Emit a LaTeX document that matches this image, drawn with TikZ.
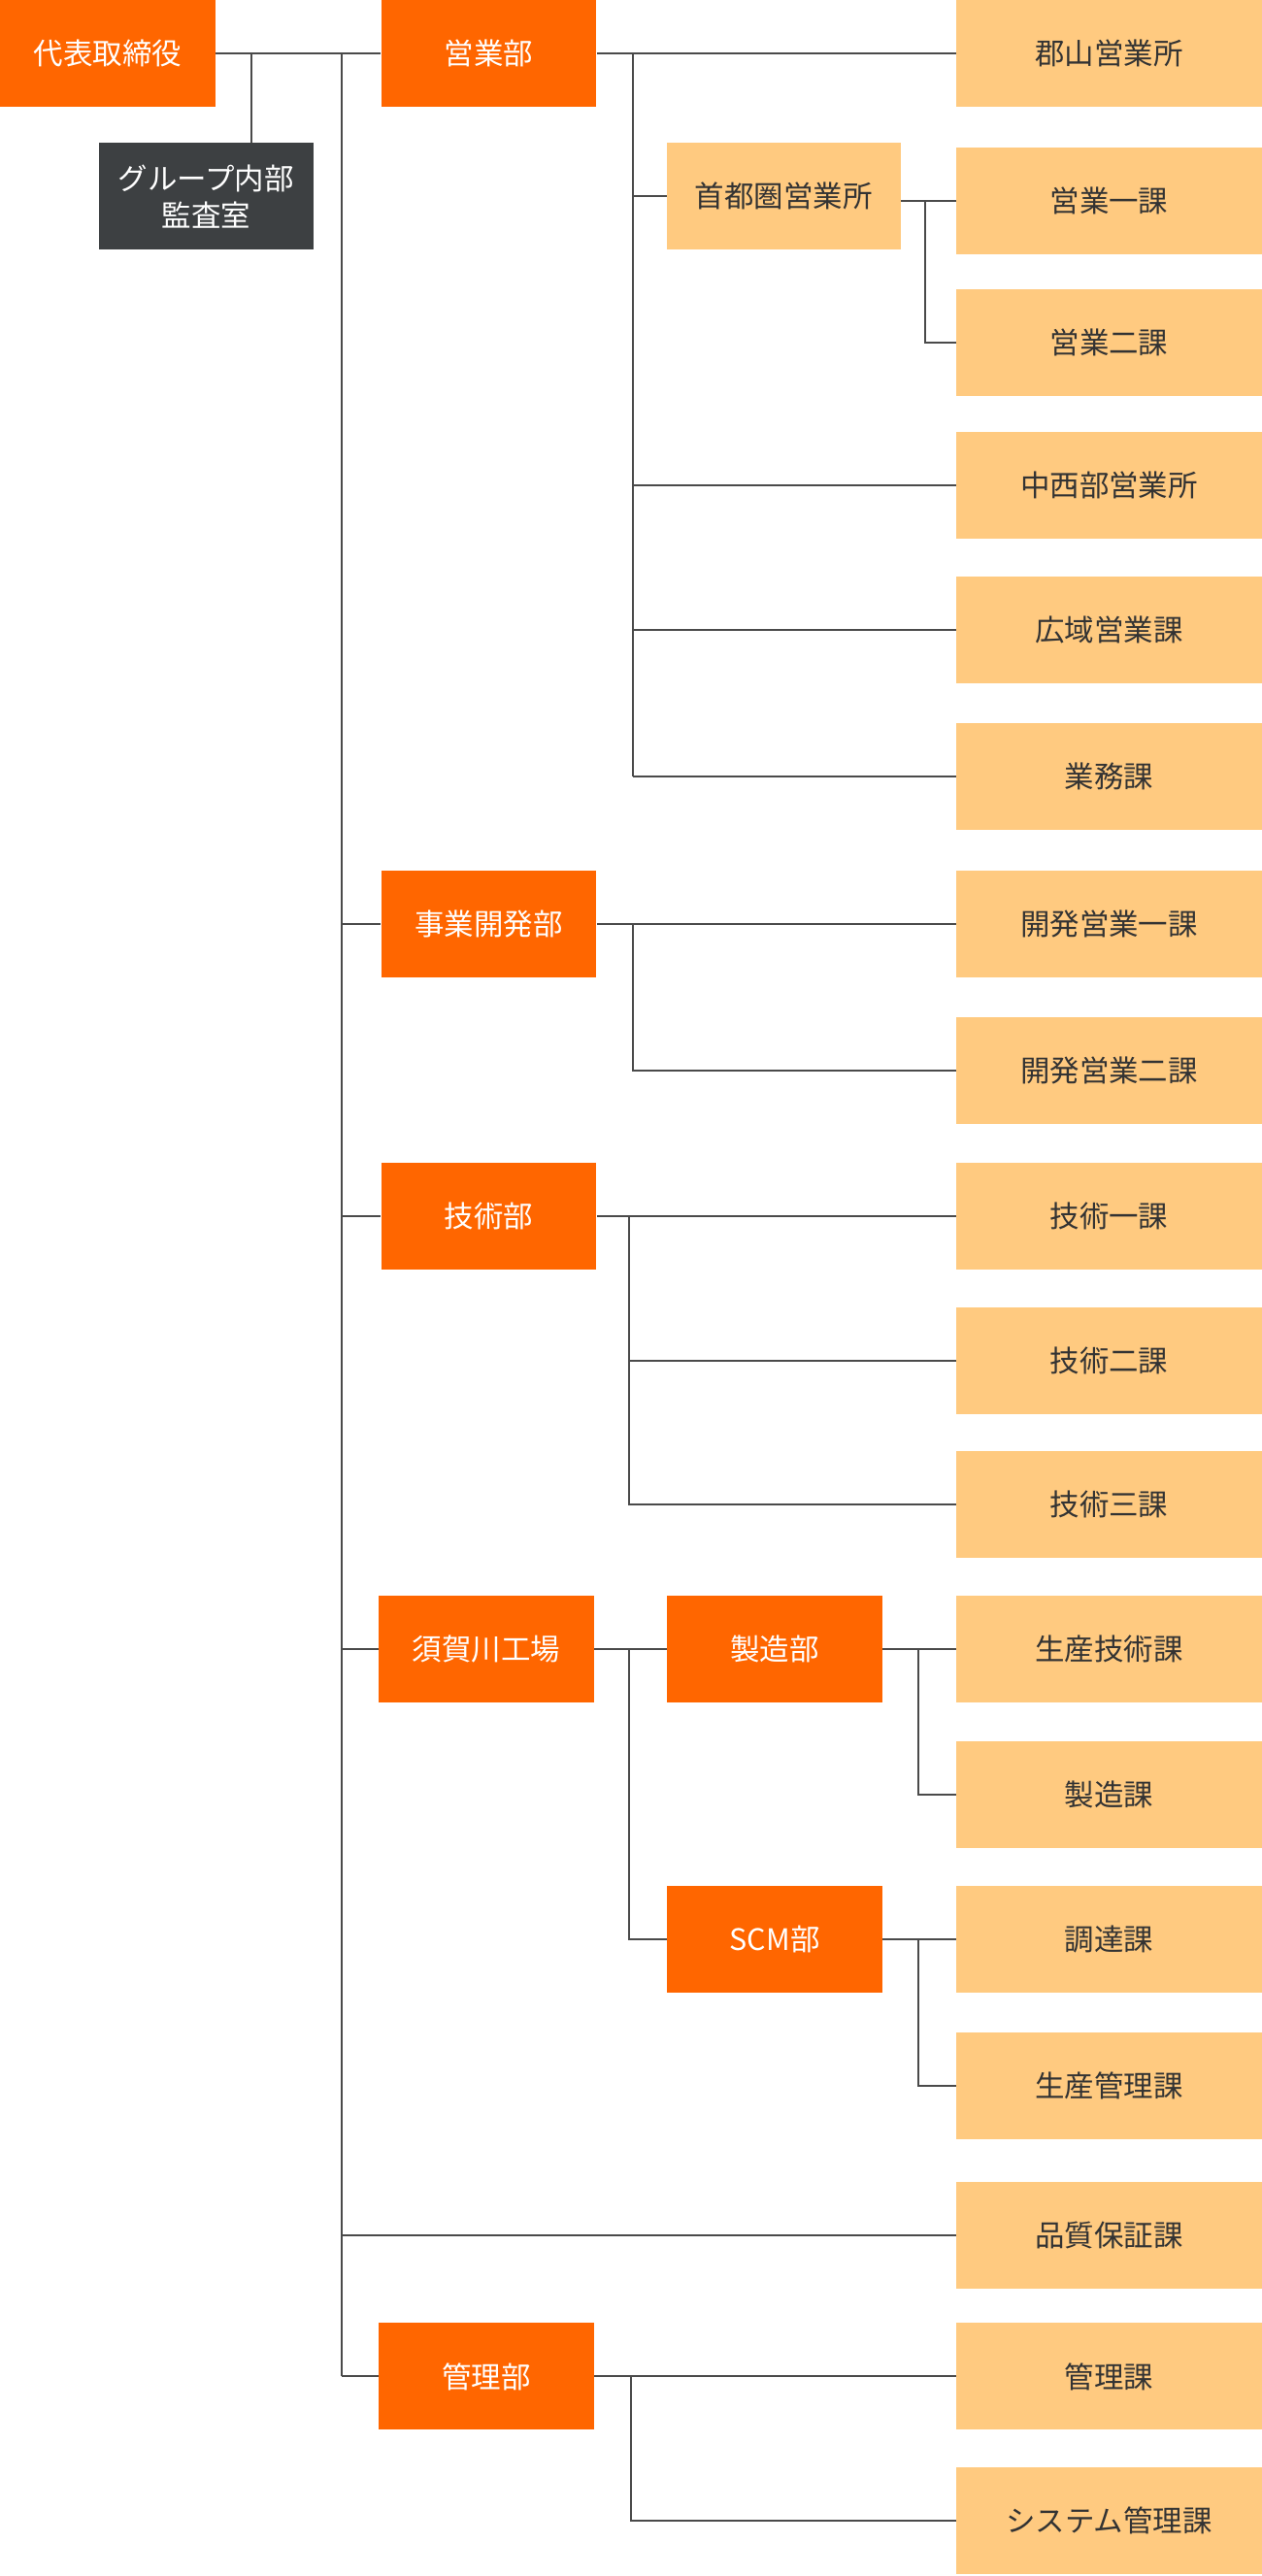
\documentclass[tikz,border=0pt]{standalone}
\usepackage{fontspec}
\setmainfont{Noto Sans CJK JP}
\definecolor{orgc}{HTML}{FF6600}
\definecolor{lightc}{HTML}{FFCA80}
\definecolor{darkc}{HTML}{3D4042}
\definecolor{linec}{HTML}{4A4A4A}
\definecolor{txtc}{HTML}{333333}
\tikzset{
  basebox/.style={inner sep=0pt, minimum height=65pt, align=center, font=\fontsize{18}{22.5}\selectfont},
  orgbox/.style={basebox, fill=orgc, text=white, minimum width=131pt},
  darkbox/.style={basebox, fill=darkc, text=white, minimum width=131pt},
  litbox/.style={basebox, fill=lightc, text=txtc, minimum width=186pt},
  conn/.style={draw=linec, line width=1.15pt}
}
\begin{document}
\begin{tikzpicture}[x=1pt,y=-1pt]
\useasboundingbox (0,0) rectangle (768,1568);
% left
\node[orgbox] (ceo) at (65.5,32.5) {代表取締役};
\node[darkbox] (audit) at (125.5,119.5) {グループ内部\\監査室};
% middle
\node[orgbox] (eigyo) at (297.5,32.5) {営業部};
\node[orgbox] (jigyo) at (297.5,562.5) {事業開発部};
\node[orgbox] (gijutsu) at (297.5,740.5) {技術部};
\node[orgbox] (sukagawa) at (296,1003.5) {須賀川工場};
\node[orgbox] (kanri) at (296,1446.5) {管理部};
% intermediate
\node[litbox, minimum width=142pt] (shuto) at (477,119.5) {首都圏営業所};
\node[orgbox] (seizobu) at (471.5,1003.5) {製造部};
\node[orgbox] (scm) at (471.5,1180.5) {SCM部};
% right
\node[litbox] (koriyama) at (675,32.5) {郡山営業所};
\node[litbox] (e1) at (675,122.5) {営業一課};
\node[litbox] (e2) at (675,208.5) {営業二課};
\node[litbox] (chusei) at (675,295.5) {中西部営業所};
\node[litbox] (koiki) at (675,383.5) {広域営業課};
\node[litbox] (gyomu) at (675,472.5) {業務課};
\node[litbox] (k1) at (675,562.5) {開発営業一課};
\node[litbox] (k2) at (675,651.5) {開発営業二課};
\node[litbox] (g1) at (675,740.5) {技術一課};
\node[litbox] (g2) at (675,828.5) {技術二課};
\node[litbox] (g3) at (675,915.5) {技術三課};
\node[litbox] (seigi) at (675,1003.5) {生産技術課};
\node[litbox] (seizoka) at (675,1092.5) {製造課};
\node[litbox] (chotatsu) at (675,1180.5) {調達課};
\node[litbox] (seikan) at (675,1269.5) {生産管理課};
\node[litbox] (hinshitsu) at (675,1360.5) {品質保証課};
\node[litbox] (kanrika) at (675,1446.5) {管理課};
\node[litbox] (system) at (675,1534.5) {システム管理課};
% coordinates for trunks
\coordinate (T) at (208,0);
\coordinate (A) at (153,0);
\coordinate (S1) at (385,0);
\coordinate (S2) at (563,0);
\coordinate (S3) at (383,0);
\coordinate (S4) at (559,0);
\coordinate (S5) at (384,0);
% top
\draw[conn] (ceo.east) -- (eigyo.west);
\draw[conn] (A |- ceo.east) -- (A |- audit.north);
\draw[conn] (T |- ceo.east) -- (T |- kanri.west);
\draw[conn] (T |- jigyo.west) -- (jigyo.west);
\draw[conn] (T |- gijutsu.west) -- (gijutsu.west);
\draw[conn] (T |- sukagawa.west) -- (sukagawa.west);
\draw[conn] (T |- hinshitsu.west) -- (hinshitsu.west);
\draw[conn] (T |- kanri.west) -- (kanri.west);
% eigyo
\draw[conn] (eigyo.east) -- (koriyama.west);
\draw[conn] (S1 |- eigyo.east) -- (S1 |- gyomu.west);
\draw[conn] (S1 |- shuto.west) -- (shuto.west);
\draw[conn] (S1 |- chusei.west) -- (chusei.west);
\draw[conn] (S1 |- koiki.west) -- (koiki.west);
\draw[conn] (S1 |- gyomu.west) -- (gyomu.west);
% shuto
\draw[conn] (shuto.east |- e1.west) -- (e1.west);
\draw[conn] (S2 |- e1.west) -- (S2 |- e2.west) -- (e2.west);
% jigyo
\draw[conn] (jigyo.east) -- (k1.west);
\draw[conn] (S1 |- k1.west) -- (S1 |- k2.west) -- (k2.west);
% gijutsu
\draw[conn] (gijutsu.east) -- (g1.west);
\draw[conn] (S3 |- g1.west) -- (S3 |- g3.west) -- (g3.west);
\draw[conn] (S3 |- g2.west) -- (g2.west);
% sukagawa
\draw[conn] (sukagawa.east) -- (seizobu.west);
\draw[conn] (S3 |- seizobu.west) -- (S3 |- scm.west) -- (scm.west);
\draw[conn] (seizobu.east) -- (seigi.west);
\draw[conn] (S4 |- seigi.west) -- (S4 |- seizoka.west) -- (seizoka.west);
\draw[conn] (scm.east) -- (chotatsu.west);
\draw[conn] (S4 |- chotatsu.west) -- (S4 |- seikan.west) -- (seikan.west);
% kanri
\draw[conn] (kanri.east) -- (kanrika.west);
\draw[conn] (S5 |- kanrika.west) -- (S5 |- system.west) -- (system.west);
\end{tikzpicture}
\end{document}
